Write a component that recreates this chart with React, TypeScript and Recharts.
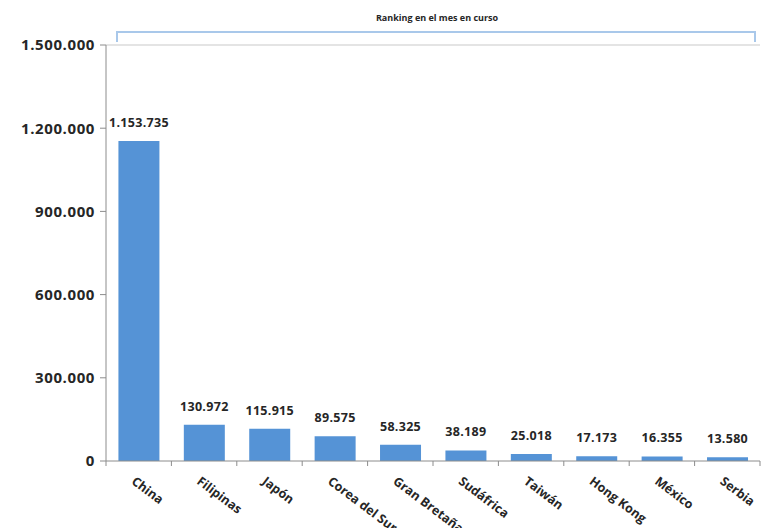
import { Bar, BarChart, LabelList, ReferenceLine, XAxis, YAxis } from "recharts";

const countries = [
  "China",
  "Filipinas",
  "Japón",
  "Corea del Sur",
  "Gran Bretaña",
  "Sudáfrica",
  "Taiwán",
  "Hong Kong",
  "México",
  "Serbia",
];
const visitors = [1153735, 130972, 115915, 89575, 58325, 38189, 25018, 17173, 16355, 13580];
const yTicks = [0, 300000, 600000, 900000, 1200000, 1500000];
const title = "Ranking en el mes en curso";

const rows = countries.map((name, i) => ({ name, value: visitors[i] }));

const FONT = "'Open Sans', 'Lato', sans-serif";
const TEXT = "#262626";
const AXIS = "#8c8c8c";
const BAND = (760 - 106) / countries.length;

// 1.153.735 style
function dots(v: number) {
  return String(Math.round(v)).replace(/\B(?=(\d{3})+(?!\d))/g, ".");
}

function CountryTick(props: any) {
  const { x, y, payload, index } = props;
  const left = x - BAND / 2;
  const last = index === countries.length - 1;
  return (
    <g>
      <line x1={left} x2={left} y1={y} y2={y + 5} stroke={AXIS} />
      {last && <line x1={x + BAND / 2} x2={x + BAND / 2} y1={y} y2={y + 5} stroke={AXIS} />}
      <text
        x={x - 8}
        y={y + 22}
        transform={`rotate(37 ${x - 8} ${y + 22})`}
        textAnchor="start"
        fontFamily={FONT}
        fontWeight={700}
        fontSize={12.5}
        fill={TEXT}
      >
        {payload.value}
      </text>
    </g>
  );
}

export default function App() {
  return (
    <div style={{ position: "absolute", left: 0, top: 0, width: 767, height: 528, background: "#fff" }}>
      <div
        style={{
          position: "absolute",
          left: 337,
          top: 11,
          width: 200,
          textAlign: "center",
          fontFamily: FONT,
          fontWeight: 700,
          fontSize: 9,
          color: TEXT,
        }}
      >
        {title}
      </div>
      <div
        style={{
          position: "absolute",
          left: 116,
          top: 31,
          width: 636,
          height: 9,
          border: "2px solid #a9c8ea",
          borderBottom: "none",
        }}
      />
      <BarChart
        width={767}
        height={528}
        data={rows}
        margin={{ top: 45, right: 7, bottom: 37, left: 0 }}
        barCategoryGap="19%"
      >
        <ReferenceLine y={1500000} stroke="#e4e4e4" strokeWidth={2} />
        <XAxis
          dataKey="name"
          height={30}
          interval={0}
          tickLine={false}
          tickSize={0}
          tickMargin={0}
          axisLine={{ stroke: AXIS }}
          tick={(p: any) => <CountryTick {...p} />}
        />
        <YAxis
          width={106}
          domain={[0, 1500000]}
          ticks={yTicks}
          interval={0}
          tickFormatter={dots}
          tickSize={6}
          tickMargin={5}
          axisLine={{ stroke: AXIS }}
          tickLine={{ stroke: AXIS }}
          tick={{ fontFamily: FONT, fontWeight: 700, fontSize: 15, fill: TEXT, letterSpacing: 0.6 }}
        />
        <Bar dataKey="value" fill="#5593d6" isAnimationActive={false}>
          <LabelList
            dataKey="value"
            position="top"
            offset={14}
            formatter={(v: any) => dots(Number(v))}
            style={{ fontFamily: FONT, fontWeight: 700, fontSize: 12.5, fill: TEXT, letterSpacing: 0.3 }}
          />
        </Bar>
      </BarChart>
    </div>
  );
}
